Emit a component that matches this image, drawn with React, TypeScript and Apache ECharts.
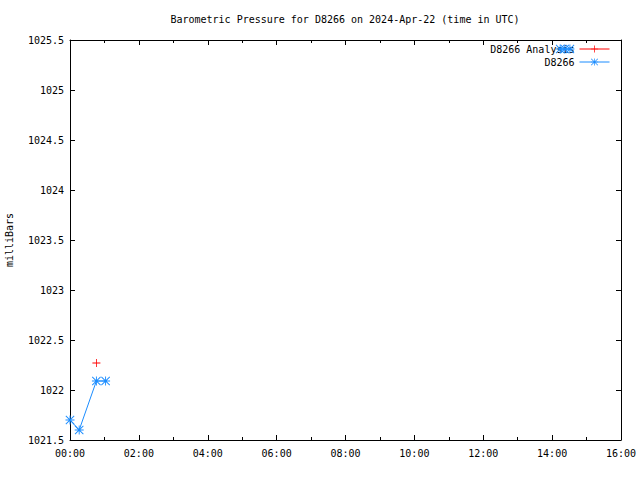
import React, { useEffect, useRef } from "react";
import * as echarts from "echarts";

const titleText = "Barometric Pressure for D8266 on 2024-Apr-22 (time in UTC)";
const yAxisName = "milliBars";

// D8266 observations (time UTC, pressure mb)
const obsTimes = ["00:00", "00:16", "00:46", "01:02", "14:14", "14:22", "14:31"];
const obsValues = [1021.7, 1021.6, 1022.09, 1022.09, 1025.41, 1025.41, 1025.41];

// D8266 analysis
const anaTimes = ["00:46"];
const anaValues = [1022.27];

const xMin = 0;
const xMax = 16;
const xStep = 2;
const yMin = 1021.5;
const yMax = 1025.5;
const yStep = 0.5;

const FONT = "DejaVu Sans Mono";

const toHours = (t: string) => {
  const [h, m] = t.split(":").map(Number);
  return h + m / 60;
};

const fmtTime = (v: number) => {
  const h = Math.floor(v);
  return (h < 10 ? "0" : "") + h + ":00";
};

const ASTERISK =
  "path://M0,4.5H10V5.5H0Z M4.5,0H5.5V10H4.5Z M0.7,0L10,9.3L9.3,10L0,0.7Z M9.3,0L10,0.7L0.7,10L0,9.3Z";
const PLUS = "path://M0,4.5H10V5.5H0Z M4.5,0H5.5V10H4.5Z";

function buildObsData() {
  const out: any[] = [];
  for (let i = 0; i < obsTimes.length; i++) {
    const x = toHours(obsTimes[i]);
    if (i > 0 && x - toHours(obsTimes[i - 1]) > 2) out.push([x, "-"]);
    out.push([x, obsValues[i]]);
  }
  return out;
}

export default function App() {
  const ref = useRef<HTMLDivElement>(null);
  useEffect(() => {
    if (!ref.current) return;
    const chart = echarts.init(ref.current, undefined, { renderer: "svg" });
    const axisCommon = {
      type: "value" as const,
      axisLine: { show: true, onZero: false, lineStyle: { color: "#000", width: 1 } },
      splitLine: { show: false },
    };
    chart.setOption({
      animation: false,
      backgroundColor: "#fff",
      textStyle: { fontFamily: FONT },
      title: {
        text: titleText,
        left: 345,
        textAlign: "center",
        top: 14,
        padding: 0,
        textStyle: { fontFamily: FONT, fontSize: 10, fontWeight: "normal", color: "#000" },
      },
      grid: { left: 70, right: 19, top: 40, bottom: 40, containLabel: false, outerBoundsMode: "none" },
      legend: {
        orient: "vertical",
        right: 30,
        top: 44,
        padding: 0,
        align: "right",
        itemWidth: 30,
        itemHeight: 9,
        itemGap: 3,
        lineStyle: { width: 1 },
        textStyle: { fontFamily: FONT, fontSize: 10, color: "#000" },
        data: ["D8266 Analysis", "D8266"],
      },
      xAxis: [
        {
          ...axisCommon,
          position: "bottom",
          min: xMin,
          max: xMax,
          interval: xStep,
          axisTick: { show: true, inside: true, length: 5, lineStyle: { color: "#000" } },
          minorTick: { show: true, splitNumber: 2, length: 3, lineStyle: { color: "#000" } },
          axisLabel: {
            color: "#000",
            fontFamily: FONT,
            fontSize: 10,
            margin: 8,
            formatter: (v: number) => fmtTime(v),
          },
        },
        {
          ...axisCommon,
          position: "top",
          min: xMin,
          max: xMax,
          interval: xStep,
          axisTick: { show: true, inside: true, length: 5, lineStyle: { color: "#000" } },
          minorTick: { show: true, splitNumber: 2, length: 3, lineStyle: { color: "#000" } },
          axisLabel: { show: false },
        },
      ],
      yAxis: [
        {
          ...axisCommon,
          position: "left",
          min: yMin,
          max: yMax,
          interval: yStep,
          name: yAxisName,
          nameLocation: "middle",
          nameGap: 56,
          nameRotate: 90,
          nameTextStyle: { fontFamily: FONT, fontSize: 10, color: "#000" },
          axisTick: { show: true, inside: true, length: 5, lineStyle: { color: "#000" } },
          axisLabel: {
            color: "#000",
            fontFamily: FONT,
            fontSize: 10,
            margin: 6,
            formatter: (v: number) => String(Math.round(v * 10) / 10),
          },
        },
        {
          ...axisCommon,
          position: "right",
          min: yMin,
          max: yMax,
          interval: yStep,
          axisTick: { show: true, inside: true, length: 5, lineStyle: { color: "#000" } },
          axisLabel: { show: false },
        },
      ],
      series: [
        {
          name: "D8266 Analysis",
          type: "line",
          data: anaTimes.map((t, i) => [toHours(t), anaValues[i]]),
          symbol: PLUS,
          symbolSize: 8,
          showSymbol: true,
          itemStyle: { color: "#ff0000" },
          lineStyle: { color: "#ff0000", width: 1 },
          z: 3,
        },
        {
          name: "D8266",
          type: "line",
          data: buildObsData(),
          connectNulls: false,
          symbol: ASTERISK,
          symbolSize: 9,
          showSymbol: true,
          itemStyle: { color: "#1a8cff" },
          lineStyle: { color: "#1a8cff", width: 1 },
          z: 4,
        },
      ],
    });
    return () => chart.dispose();
  }, []);
  return <div ref={ref} style={{ width: 640, height: 480, position: "absolute", left: 0, top: 0 }} />;
}
